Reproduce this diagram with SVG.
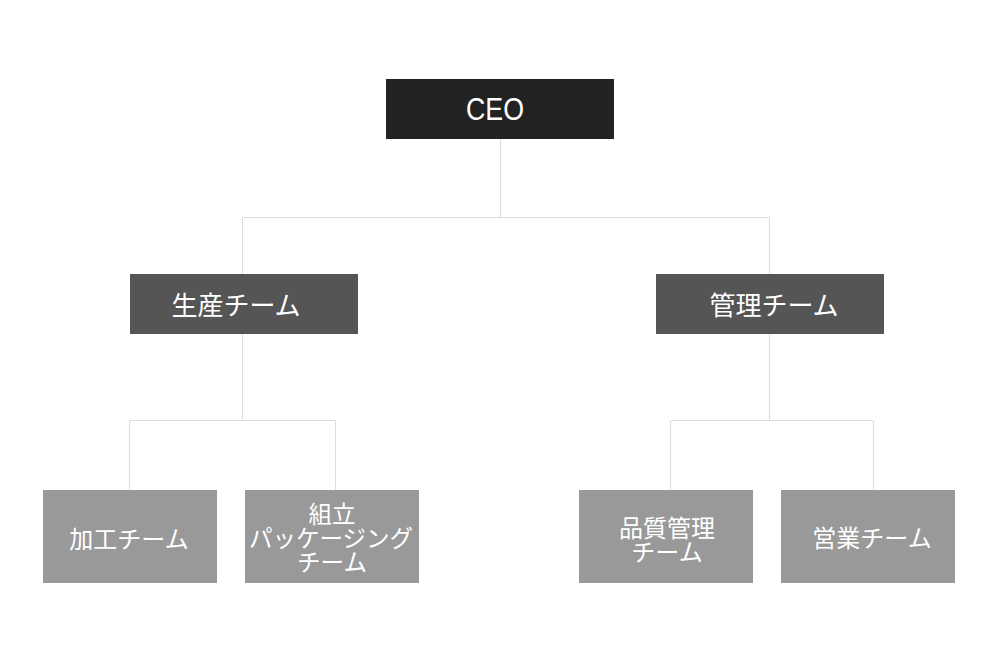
<svg xmlns="http://www.w3.org/2000/svg" width="1000" height="653" viewBox="0 0 1000 653">
<style>
.t{font-family:"Liberation Sans","Noto Sans CJK JP",sans-serif;fill:#fff;text-anchor:middle;dominant-baseline:central}
.jp{font-family:"Noto Sans CJK JP","Noto Sans",sans-serif;fill:#fff;text-anchor:middle;dominant-baseline:central}
.c{stroke:#dddddd;stroke-width:1;fill:none}
</style>
<rect width="1000" height="653" fill="#fff"/>
<g id="connectors">
<path class="c" d="M500.5 139V217.5M242.5 217.5H769.5M242.5 217.5V274M769.5 217.5V274"/>
<path class="c" d="M242.5 334V420.5M129.5 420.5H335.5M129.5 420.5V490M335.5 420.5V490"/>
<path class="c" d="M769.5 334V420.5M670.5 420.5H873.5M670.5 420.5V490M873.5 420.5V490"/>
</g>
<g id="ceo"><rect x="386" y="79" width="228" height="60" fill="#222222"/><text class="t" x="495" y="109" font-size="32" textLength="58" lengthAdjust="spacingAndGlyphs">CEO</text></g>
<g id="seisan"><rect x="130" y="274" width="228" height="60" fill="#555555"/><text class="jp" x="236" y="303" font-size="26">生産チーム</text></g>
<g id="kanri"><rect x="656" y="274" width="228" height="60" fill="#555555"/><text class="jp" x="774" y="303" font-size="26">管理チーム</text></g>
<g id="kako"><rect x="43" y="490" width="174" height="93" fill="#999999"/><text class="jp" x="129" y="537" font-size="24">加工チーム</text></g>
<g id="kumitate"><rect x="245" y="490" width="174" height="93" fill="#999999"/><text class="jp" font-size="23.5"><tspan x="332" y="513">組立</tspan><tspan x="331" y="537">パッケージング</tspan><tspan x="332" y="561">チーム</tspan></text></g>
<g id="hinshitsu"><rect x="579" y="490" width="174" height="93" fill="#999999"/><text class="jp" font-size="24"><tspan x="667" y="526">品質管理</tspan><tspan x="667" y="550">チーム</tspan></text></g>
<g id="eigyo"><rect x="781" y="490" width="174" height="93" fill="#999999"/><text class="jp" x="872" y="536" font-size="24">営業チーム</text></g>
</svg>
